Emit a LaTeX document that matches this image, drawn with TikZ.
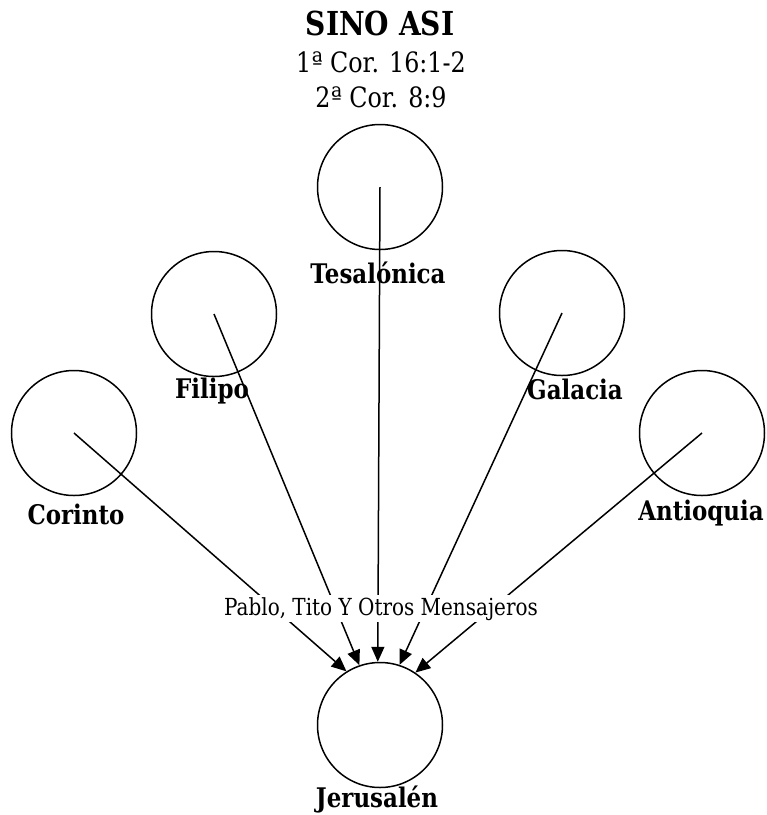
\documentclass[tikz,border=0pt]{standalone}
\usepackage{fontspec}
\setmainfont{DejaVu Serif}[FakeStretch=0.85]
\usetikzlibrary{arrows.meta}
\tikzstyle{ciudad} = [draw, circle,
	line width=1.5pt,
	minimum size=125pt,
	inner sep=0pt]
\tikzstyle{nombre} = [anchor=base, inner sep=0pt,
	font=\fontsize{27}{30}\selectfont\bfseries]
\tikzstyle{flecha} =[-{Triangle[length=15pt, width=13pt]}, line width=1.5pt]

\begin{document}
\begin{tikzpicture}[x=1pt, y=-1pt]
			\useasboundingbox (0,0) rectangle (767,815);
			\node (titulo)[anchor=base, font=\fontsize{33}{36}\selectfont\bfseries] at (380,35) {SINO ASI};
			\node (cita1)[anchor=base, font=\fontsize{28}{32}\selectfont] at (381,72) {1ª Cor. 16:1-2};
			\node (cita2)[anchor=base, font=\fontsize{28}{32}\selectfont] at (381,107) {2ª Cor. 8:9};
			
			\node (tesalonica)[ciudad] at (380,187) {};
			\node (filipo)[ciudad] at (214,314) {};
			\node (galacia)[ciudad] at (562,313) {};
			\node (corinto)[ciudad] at (74,433) {};
			\node (antioquia)[ciudad] at (702,433) {};
			\node (jerusalen)[ciudad] at (380,725) {};
			
			\node (n1)[nombre] at (378,283) {Tesalónica};
			\node (n2)[nombre] at (212,398) {Filipo};
			\node (n3)[nombre] at (575,399) {Galacia};
			\node (n4)[nombre] at (76,524) {Corinto};
			\node (n5)[nombre] at (701,520) {Antioquia};
			\node (n6)[nombre] at (377,807) {Jerusalén};
			
			\draw [flecha] (corinto.center) -- (jerusalen.122);
			\draw [flecha] (filipo.center) -- (jerusalen.109);
			\draw [flecha] (tesalonica.center) -- (jerusalen.92);
			\draw [flecha] (galacia.center) -- (jerusalen.72);
			\draw [flecha] (antioquia.center) -- (jerusalen.56);
			
			\node (mensajeros)[anchor=base, fill=white, inner sep=2pt, font=\fontsize{23.5}{26}\selectfont] at (381,615) {Pablo, Tito Y Otros Mensajeros};
		\end{tikzpicture}
\end{document}
